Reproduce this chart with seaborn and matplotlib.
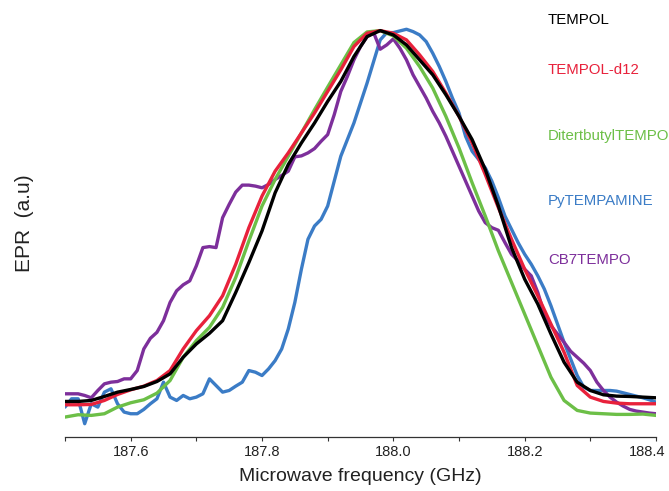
import numpy as np
import pandas as pd
import matplotlib
matplotlib.use("Agg")
import matplotlib.pyplot as plt
import matplotlib.transforms as mtransforms
import seaborn as sns
from matplotlib.ticker import MultipleLocator, FuncFormatter

# frequency grids (GHz)
freq_smooth = [round(187.50 + 0.02 * i, 2) for i in range(46)]
freq_fine = [round(187.50 + 0.01 * i, 2) for i in range(91)]

# EPR intensity (arbitrary units)
tempol = [42, 42, 45, 57, 70, 78, 87, 102, 125, 175,
          215, 247, 285, 370, 460, 555, 670, 755, 820, 880,
          945, 1005, 1080, 1140, 1158, 1145, 1115, 1070, 1025, 965,
          900, 830, 740, 630, 505, 410, 335, 245, 160, 100,
          75, 62, 58, 57, 55, 53]
tempol_d12 = [32, 32, 33, 45, 63, 77, 88, 105, 135, 200,
              255, 300, 360, 455, 565, 660, 735, 790, 850, 910,
              975, 1040, 1110, 1150, 1158, 1150, 1130, 1085, 1035, 970,
              900, 820, 725, 625, 530, 440, 360, 275, 190, 90,
              55, 42, 37, 35, 35, 35]
ditertbutyl = [-5, 2, 0, 5, 25, 38, 47, 67, 105, 175,
               225, 265, 325, 415, 525, 630, 710, 780, 850, 920,
               988, 1055, 1122, 1154, 1158, 1142, 1105, 1050, 985, 900,
               805, 700, 600, 495, 400, 305, 210, 115, 45, 15,
               7, 5, 3, 3, 4, 0]
pytempamine = [25, 50, 50, -25, 35, 25, 70, 80, 35, 10,
               5, 5, 18, 35, 50, 100, 55, 45, 60, 50,
               55, 65, 110, 90, 70, 75, 88, 100, 135, 130,
               120, 140, 165, 200, 260, 340, 440, 530, 570, 590,
               630, 705, 780, 830, 880, 940, 1000, 1065, 1130, 1152,
               1152, 1157, 1162, 1155, 1145, 1125, 1090, 1050, 1005, 955,
               910, 840, 795, 770, 745, 705, 655, 600, 560, 520,
               485, 455, 420, 380, 330, 275, 220, 170, 120, 85,
               75, 75, 75, 75, 73, 68, 63, 58, 53, 47,
               40]
cb7tempo = [65, 65, 65, 60, 53, 75, 95, 100, 102, 110,
            110, 135, 200, 232, 250, 285, 340, 375, 393, 405,
            450, 505, 508, 505, 595, 635, 672, 693, 693, 690,
            685, 695, 710, 722, 735, 778, 781, 790, 803, 825,
            845, 905, 975, 1020, 1070, 1110, 1140, 1152, 1102, 1115,
            1133, 1105, 1070, 1025, 990, 955, 915, 880, 840, 795,
            750, 705, 660, 615, 580, 565, 557, 520, 485, 465,
            440, 420, 370, 305, 270, 245, 220, 193, 175, 157,
            135, 100, 75, 55, 40, 28, 18, 13, 10, 7,
            5]

names = ["TEMPOL", "TEMPOL-d12", "DitertbutylTEMPO", "PyTEMPAMINE", "CB7TEMPO"]
colors = {"TEMPOL": "#000000", "TEMPOL-d12": "#e8213b", "DitertbutylTEMPO": "#6cbf47",
          "PyTEMPAMINE": "#3b7cc6", "CB7TEMPO": "#7d2f9b"}

frames = [
    pd.DataFrame({"f": freq_fine, "epr": pytempamine, "s": "PyTEMPAMINE"}),
    pd.DataFrame({"f": freq_fine, "epr": cb7tempo, "s": "CB7TEMPO"}),
    pd.DataFrame({"f": freq_smooth, "epr": ditertbutyl, "s": "DitertbutylTEMPO"}),
    pd.DataFrame({"f": freq_smooth, "epr": tempol_d12, "s": "TEMPOL-d12"}),
    pd.DataFrame({"f": freq_smooth, "epr": tempol, "s": "TEMPOL"}),
]

sns.set_theme(style="white")
plt.rcParams["font.family"] = ["Liberation Sans", "DejaVu Sans"]

fig = plt.figure(figsize=(6.69, 4.91), dpi=100)
ax = fig.add_axes([65 / 669, 1 - 437 / 491, (656 - 65) / 669, (437 - 10) / 491])

for d in frames:
    sns.lineplot(data=d, x="f", y="epr", color=colors[d["s"].iloc[0]], lw=2.4,
                 ax=ax, legend=False)

ax.set_xlim(187.5, 188.4)
ax.set_ylim(-65, 1220)
ax.xaxis.set_major_locator(MultipleLocator(0.1))
ax.xaxis.set_major_formatter(FuncFormatter(
    lambda v, p: f"{v:.1f}" if abs(round(v * 10) % 2) < 1e-9 and v > 187.55 else ""))
ax.set_yticks([])
for sp in ["left", "right", "top"]:
    ax.spines[sp].set_visible(False)
ax.spines["bottom"].set_color("#333333")
ax.spines["bottom"].set_linewidth(0.9)
ax.tick_params(axis="x", bottom=True, direction="out", length=3, width=0.8,
               color="#333333", labelsize=10.5, pad=3, labelcolor="#222222")
ax.set_xlabel("Microwave frequency (GHz)", fontsize=14, labelpad=6, color="#222222")
ax.set_ylabel("EPR  (a.u)", fontsize=15, labelpad=22, color="#222222")

fig.canvas.draw()
labels = ax.get_xticklabels()
last = [t for t in labels if t.get_text() == "188.4"]
for t in last:
    t.set_transform(t.get_transform() + mtransforms.ScaledTranslation(-9 / 100, 0, fig.dpi_scale_trans))

label_y = [20, 70, 136, 201, 260]
for n, yy in zip(names, label_y):
    fig.text(548 / 669, 1 - yy / 491, n, color=colors[n], fontsize=10.8,
             ha="left", va="center")

fig.savefig("out.png", dpi=100)
